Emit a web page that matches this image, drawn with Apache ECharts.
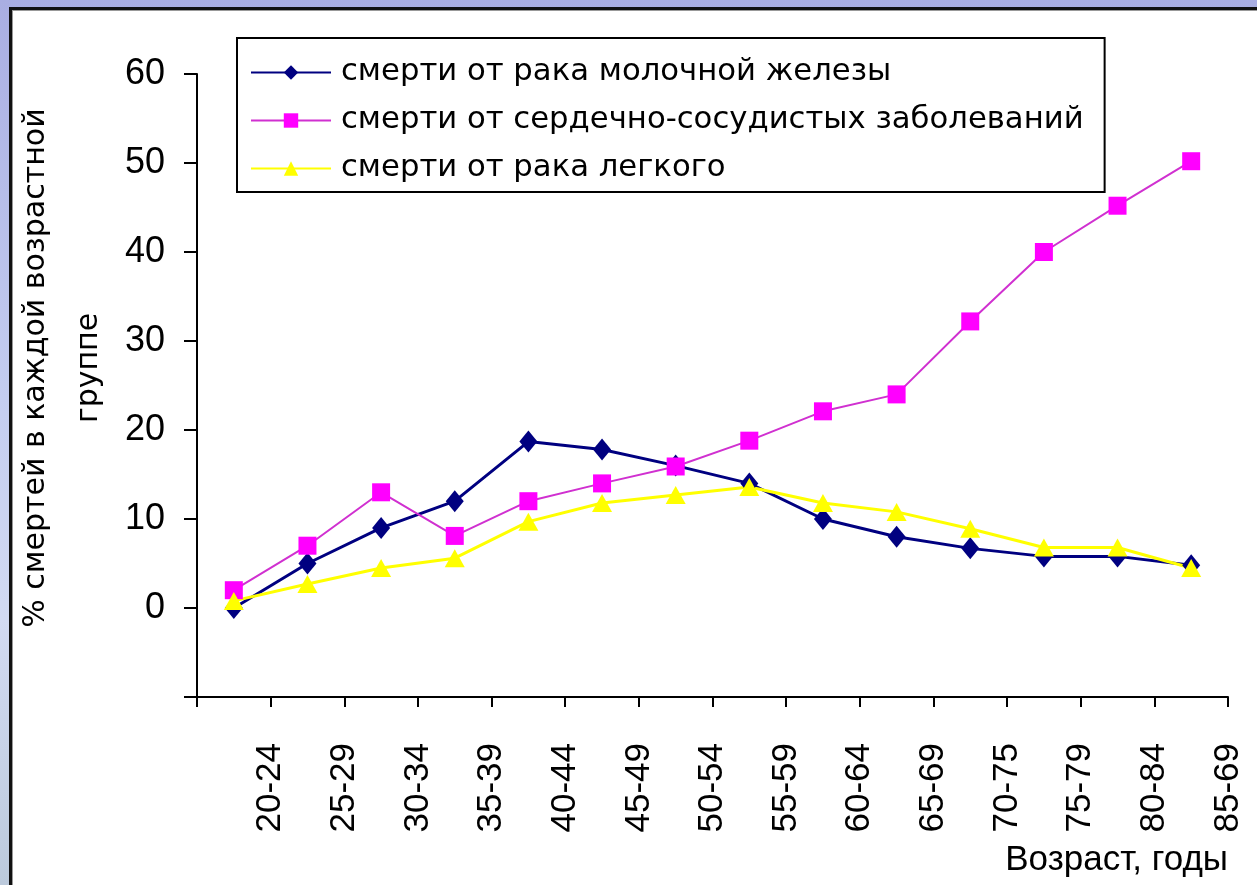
<!DOCTYPE html>
<html>
<head>
<meta charset="utf-8">
<script src="https://cdn.jsdelivr.net/npm/echarts@6/dist/echarts.min.js"></script>
<style>
  html, body {
    margin: 0;
    width: 1257px;
    height: 885px;
    overflow: hidden;
    background: linear-gradient(to bottom, #a9aee2 0%, #c4cdf0 45%, #d2daf2 70%, #bccadc 100%);
  }
  .panel {
    position: absolute;
    left: 9px;
    top: 7px;
    width: 1300px;
    height: 900px;
    background: #fff;
    border-left: 3px solid #111;
    border-top: 3px solid #111;
    box-shadow: inset 1px 1px 0 #999;
  }
  #chart {
    position: absolute;
    left: 0;
    top: 0;
    width: 1257px;
    height: 885px;
  }
</style>
</head>
<body>
<div class="panel"></div>
<div id="chart"></div>
<script>
// возрастные группы (подписи оси X как на исходной картинке)
const ageGroups = ['20-24', '25-29', '30-34', '35-39', '40-44', '45-49', '50-54',
  '55-59', '60-64', '65-69', '70-75', '75-79', '80-84', '85-69']

const seriesNames = [
  'смерти от рака молочной железы',
  'смерти от сердечно-сосудистых заболеваний',
  'смерти от рака легкого'
]

// % смертей в каждой возрастной группе
const breastCancer = [0, 5, 9, 12, 18.7, 17.8, 16, 14, 10, 8, 6.7, 5.8, 5.8, 4.8]
const cardio = [2, 7, 13, 8.1, 12, 14, 15.9, 18.8, 22.1, 24, 32.2, 40, 45.2, 50.2]
const lungCancer = [0.8, 2.7, 4.5, 5.6, 9.7, 11.8, 12.7, 13.6, 11.8, 10.8, 8.9, 6.8, 6.8, 4.5]

const yTitle = '% смертей в каждой возрастной\nгруппе'
const xTitle = 'Возраст, годы'

const chart = echarts.init(document.getElementById('chart'))

chart.setOption({
  animation: false,
  backgroundColor: 'transparent',
  grid: { left: 197, right: 29, top: 74, bottom: 188 },
  legend: {
    orient: 'vertical',
    left: 237,
    top: 38,
    padding: [19, 21, 8, 13],
    itemWidth: 80,
    itemHeight: 18,
    itemGap: 17,
    backgroundColor: '#fff',
    borderColor: '#000',
    borderWidth: 2,
    borderRadius: 0,
    textStyle: {
      fontFamily: 'DejaVu Sans',
      fontSize: 30.7,
      lineHeight: 31,
      color: '#000',
      padding: [0, 0, 0, 5]
    },
    data: seriesNames
  },
  xAxis: [
    {
      type: 'category',
      data: ageGroups,
      boundaryGap: true,
      position: 'bottom',
      axisLine: { show: true, onZero: false, lineStyle: { color: '#000', width: 2 } },
      axisTick: { show: true, interval: 0, length: 10, lineStyle: { color: '#000', width: 2 } },
      axisLabel: { show: true, interval: 0, color: 'transparent', fontSize: 1 }
    },
    {
      // отдельная ось только для подписей: подписи стоят на делениях
      type: 'category',
      data: [''].concat(ageGroups),
      boundaryGap: false,
      position: 'bottom',
      axisLine: { show: false },
      axisTick: { show: false },
      axisLabel: {
        interval: 0,
        rotate: 90,
        margin: 46,
        fontFamily: 'Liberation Sans',
        fontSize: 35,
        color: '#000'
      }
    }
  ],
  yAxis: {
    type: 'value',
    min: -10,
    max: 60,
    interval: 10,
    splitLine: { show: false },
    axisLine: { show: true, lineStyle: { color: '#000', width: 2 } },
    axisTick: { show: true, length: 13, lineStyle: { color: '#000', width: 2 } },
    axisLabel: {
      margin: 32,
      fontFamily: 'Liberation Sans',
      fontSize: 36,
      color: '#000',
      formatter: v => (v < 0 ? '' : v)
    }
  },
  graphic: [
    {
      type: 'text',
      x: 63,
      y: 368,
      rotation: Math.PI / 2,
      style: {
        text: yTitle,
        align: 'center',
        verticalAlign: 'middle',
        font: '30px "DejaVu Sans"',
        lineHeight: 53,
        fill: '#000'
      }
    },
    {
      type: 'text',
      right: 29,
      top: 843,
      style: {
        text: xTitle,
        font: '35px "Liberation Sans"',
        fill: '#000'
      }
    }
  ],
  series: [
    {
      name: seriesNames[0],
      type: 'line',
      data: breastCancer,
      symbol: 'diamond',
      symbolSize: [18, 22],
      lineStyle: { color: '#000080', width: 3 },
      itemStyle: { color: '#000080' }
    },
    {
      name: seriesNames[1],
      type: 'line',
      data: cardio,
      symbol: 'rect',
      symbolSize: 18,
      lineStyle: { color: '#d030d0', width: 2 },
      itemStyle: { color: '#ff00ff' }
    },
    {
      name: seriesNames[2],
      type: 'line',
      data: lungCancer,
      symbol: 'triangle',
      symbolSize: [20, 18],
      lineStyle: { color: '#ffff00', width: 3 },
      itemStyle: { color: '#ffff00' }
    }
  ]
})
</script>
</body>
</html>
